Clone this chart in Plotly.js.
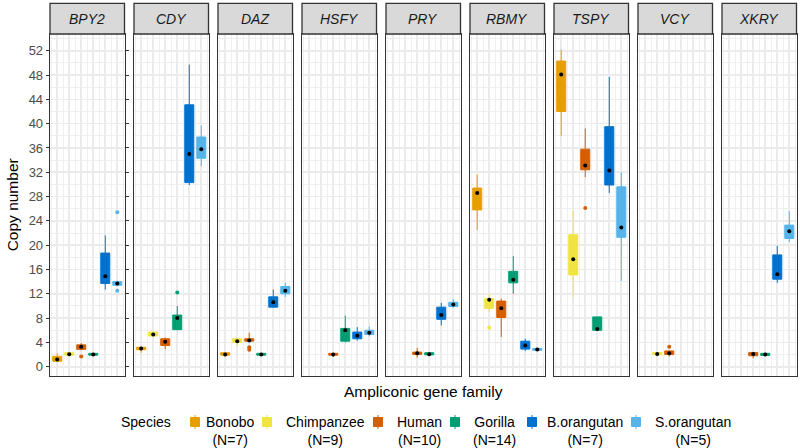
<!DOCTYPE html>
<html><head><meta charset="utf-8">
<script src="https://cdn.plot.ly/plotly-3.0.1.min.js"></script>
<style>html,body{margin:0;padding:0;background:#fff;}#chart{width:800px;height:448px;}</style>
</head><body><div id="chart"></div>
<script>
// ---- data ----
const families = ['BPY2','CDY','DAZ','HSFY','PRY','RBMY','TSPY','VCY','XKRY'];
const species = ['Bonobo','Chimpanzee','Human','Gorilla','B.orangutan','S.orangutan'];
const sampleN = ['(N=7)','(N=9)','(N=10)','(N=14)','(N=7)','(N=5)'];
// rows = species, columns = families
const Q1 = [
  [0.9, 2.8, 1.9, null, null, 25.8, 42.0, null, null],
  [1.9, 5.05, 4.0, null, null, 9.6, 15.1, 1.95, null],
  [2.85, 3.5, 4.2, 1.9, 2.0, 8.1, 32.4, 2.0, 1.8],
  [1.9, 6.1, 1.9, 4.2, 1.95, 13.8, 6.0, null, 1.85],
  [13.7, 30.3, 9.8, 4.6, 7.8, 2.9, 29.9, null, 14.4],
  [13.4, 34.3, 12.0, 5.3, 9.9, 2.7, 21.3, null, 21.1]
];
const MED = [
  [1.2, 3.0, 2.0, null, null, 28.6, 48.1, null, null],
  [2.05, 5.3, 4.2, null, null, 11.0, 17.7, 2.1, null],
  [3.3, 4.1, 4.3, 2.0, 2.2, 9.6, 33.1, 2.2, 2.1],
  [2.0, 8.0, 2.0, 6.0, 2.05, 14.3, 6.2, null, 2.0],
  [14.9, 35.0, 10.6, 5.1, 8.5, 3.5, 32.3, null, 15.2],
  [13.7, 35.8, 12.5, 5.6, 10.25, 2.85, 22.9, null, 22.3]
];
const Q3 = [
  [1.7, 3.2, 2.3, null, null, 29.4, 50.3, null, null],
  [2.3, 5.7, 4.6, null, null, 11.2, 21.7, 2.35, null],
  [3.6, 4.6, 4.6, 2.2, 2.4, 10.8, 35.8, 2.6, 2.35],
  [2.2, 8.5, 2.2, 6.3, 2.3, 15.7, 8.2, null, 2.2],
  [18.7, 43.1, 11.5, 5.7, 9.8, 4.2, 39.5, null, 18.4],
  [14.0, 37.8, 13.2, 6.0, 10.6, 3.0, 29.6, null, 23.3]
];
const LO = [
  [0.8, 2.3, 1.7, null, null, 22.5, 38.0, null, null],
  [1.9, 5.0, 3.4, null, null, 9.0, 11.5, 1.9, null],
  [2.7, 2.9, 4.2, 1.6, 1.5, 4.9, 31.2, 1.7, 1.4],
  [1.9, 6.0, 1.9, 4.0, 1.95, 12.0, 6.0, null, 1.85],
  [12.7, 29.9, 9.7, 4.3, 6.8, 2.6, 28.6, null, 13.8],
  [13.4, 33.0, 11.5, 5.0, 9.7, 2.6, 14.1, null, 20.5]
];
const HI = [
  [2.2, 3.3, 2.3, null, null, 31.6, 52.2, null, null],
  [2.3, 5.7, 4.6, null, null, 12.0, 25.6, 2.35, null],
  [3.9, 4.8, 5.6, 2.2, 3.1, 11.2, 39.2, 2.6, 2.4],
  [2.2, 10.0, 2.2, 8.4, 2.3, 18.2, 8.2, null, 2.2],
  [21.6, 49.7, 12.7, 6.5, 10.5, 4.6, 47.7, null, 19.9],
  [14.0, 39.7, 13.8, 6.6, 11.1, 3.1, 32.0, null, 25.6]
];
const outlierSpecies = [2, 5, 5, 3, 2, 2, 1, 2, 2];
const outlierFamily  = [0, 0, 0, 1, 2, 2, 5, 6, 7];
const outlierValue   = [1.7, 25.4, 12.5, 12.2, 2.8, 3.2, 6.4, 26.1, 3.3];

// ---- styles ----
const colors = ['#E69F00','#F0E442','#D55E00','#009E73','#0072CE','#56B4E9'];
const FONT = 'Liberation Sans, Arial, sans-serif';
const W = 800, H = 448;
const px = x => x / W, py = y => 1 - y / H;
const panelL0 = 50, panelStep = 84, panelW = 74.5, panelTop = 34, panelBot = 375.7, stripTop = 3.3;

const traces = [];
const shapes = [];
const annotations = [];
const layout = {
  width: W, height: H, margin: {l:0, r:0, t:0, b:0},
  paper_bgcolor: '#fff', plot_bgcolor: '#fff', showlegend: false,
  font: {family: FONT},
  yaxis: {
    domain: [py(panelBot), py(panelTop)], anchor: 'x', range: [-1.48, 54.75],
    tick0: 0, dtick: 4, ticks: 'outside', ticklen: 3, tickwidth: 1, tickcolor: '#333',
    tickfont: {size: 13, color: '#4D4D4D', family: FONT},
    showgrid: true, gridcolor: '#EBEBEB', gridwidth: 1.6,
    minor: {dtick: 2, showgrid: true, gridcolor: '#EBEBEB', gridwidth: 0.8},
    showline: true, linecolor: '#333', linewidth: 1.3, mirror: 'all', zeroline: false,
    title: {text: 'Copy number', font: {size: 15.5, color: '#000', family: FONT}, standoff: 6}
  }
};

families.forEach((fam, f) => {
  const ax = f === 0 ? '' : String(f + 1);
  const L = panelL0 + f * panelStep;
  layout['xaxis' + ax] = {
    domain: [px(L), px(L + panelW)], anchor: 'y', range: [0.4, 6.6],
    tick0: 1, dtick: 1, showticklabels: false, ticks: '',
    showgrid: true, gridcolor: '#EBEBEB', gridwidth: 1.6,
    minor: {dtick: 0.5, showgrid: true, gridcolor: '#EBEBEB', gridwidth: 0.8},
    showline: true, linecolor: '#333', linewidth: 1.3, mirror: true, zeroline: false
  };
  // strip
  shapes.push({type: 'rect', xref: 'paper', yref: 'paper', x0: px(L), x1: px(L + panelW),
    y0: py(panelTop), y1: py(stripTop), fillcolor: '#D9D9D9', line: {color: '#333', width: 1.3}, layer: 'above'});
  annotations.push({xref: 'paper', yref: 'paper', x: px(L + panelW / 2), y: py((panelTop + stripTop) / 2),
    text: '<i>' + fam + '</i>', showarrow: false, xanchor: 'center', yanchor: 'middle',
    font: {size: 14, color: '#1A1A1A', family: FONT}});

  const dotX = [], dotY = [];
  species.forEach((sp, s) => {
    if (MED[s][f] === null) return;
    traces.push({
      type: 'box', orientation: 'v', xaxis: 'x' + ax, yaxis: 'y', name: sp,
      x: [s + 1], q1: [Q1[s][f]], median: [MED[s][f]], q3: [Q3[s][f]],
      lowerfence: [LO[s][f]], upperfence: [HI[s][f]],
      width: 0.75, whiskerwidth: 0, fillcolor: colors[s],
      line: {color: colors[s], width: 1}, boxpoints: false, hoverinfo: 'skip'
    });
    dotX.push(s + 1); dotY.push(MED[s][f]);
  });
  traces.push({type: 'scatter', mode: 'markers', xaxis: 'x' + ax, yaxis: 'y', x: dotX, y: dotY,
    marker: {color: '#000', size: 4}, hoverinfo: 'skip'});
});

outlierValue.forEach((v, i) => {
  const f = outlierFamily[i], s = outlierSpecies[i];
  traces.push({type: 'scatter', mode: 'markers', xaxis: 'x' + (f === 0 ? '' : f + 1), yaxis: 'y',
    x: [s + 1], y: [v], marker: {color: colors[s], size: 4}, hoverinfo: 'skip'});
});

// x title
annotations.push({xref: 'paper', yref: 'paper', x: px(423), y: py(391), text: 'Ampliconic gene family',
  showarrow: false, xanchor: 'center', yanchor: 'middle', font: {size: 15.5, color: '#000', family: FONT}});

// manual legend
const legKey = [195, 267, 378, 455, 532, 636];
const legText = [230, 325.5, 419.5, 494, 584.5, 692.5];
annotations.push({xref: 'paper', yref: 'paper', x: px(173), y: py(422), text: 'Species', showarrow: false,
  xanchor: 'right', yanchor: 'middle', font: {size: 14, color: '#000', family: FONT}});
species.forEach((sp, s) => {
  const kc = legKey[s];
  shapes.push({type: 'line', xref: 'paper', yref: 'paper', x0: px(kc), x1: px(kc), y0: py(415), y1: py(429),
    line: {color: colors[s], width: 1}});
  shapes.push({type: 'rect', xref: 'paper', yref: 'paper', x0: px(kc - 4.5), x1: px(kc + 4.5), y0: py(417.5), y1: py(426.5),
    fillcolor: colors[s], line: {color: colors[s], width: 1}});
  annotations.push({xref: 'paper', yref: 'paper', x: px(legText[s]), y: py(430.5), text: sp + '<br>' + sampleN[s],
    showarrow: false, xanchor: 'center', yanchor: 'middle', align: 'center',
    font: {size: 14, color: '#000', family: FONT}});
});

layout.shapes = shapes;
layout.annotations = annotations;
Plotly.newPlot('chart', traces, layout, {displayModeBar: false, staticPlot: true});
</script>
</body></html>
